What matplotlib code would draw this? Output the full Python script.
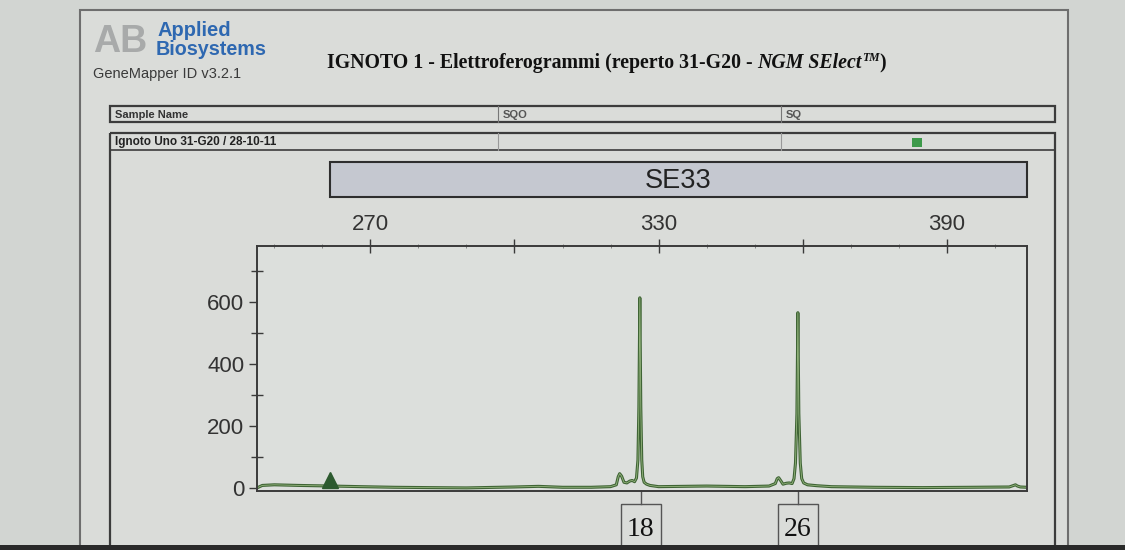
import matplotlib
matplotlib.use("Agg")
import matplotlib.pyplot as plt
from matplotlib.patches import Rectangle
from matplotlib.transforms import blended_transform_factory
from matplotlib.ticker import MultipleLocator

# electropherogram trace (size in bp, height in RFU)
size_bp = [246.4, 247.5, 250, 255, 262, 268, 275, 282, 290, 300, 305, 310, 316,
           320, 321.2, 321.6, 321.9, 322.3, 322.8, 323.4, 324.0, 324.5, 325.0,
           325.4, 325.7, 325.9, 326.1, 326.3, 326.5, 326.7, 327.0, 327.5, 328.2,
           330, 340, 348, 353, 354.3, 354.7, 355.0, 355.4, 355.9, 356.6, 357.2,
           357.8, 358.2, 358.5, 358.8, 359.0, 359.2, 359.5, 359.8, 360.2, 361.0,
           363, 366, 375, 385, 395, 403, 404.3, 404.7, 405.3, 406.7]
rfu = [0, 8, 10, 8, 6, 4, 2, 1, 0, 3, 5, 2, 2,
       4, 10, 36, 46, 38, 18, 16, 22, 24, 20,
       32, 90, 260, 613, 260, 90, 36, 18, 12, 8,
       4, 6, 4, 6, 14, 30, 33, 24, 12, 15, 16,
       14, 30, 80, 240, 565, 240, 80, 30, 16, 10,
       7, 4, 2, 1, 2, 3, 10, 6, 3, 2]

marker_name = "SE33"
marker_range = (261.5, 406.7)
allele_pos = [326.3, 359.0]
allele_lab = ["18", "26"]
ref_peak = (261.7, 24)

x_ticks = [270, 300, 330, 360, 390]
x_ticklabels = ["270", "", "330", "", "390"]
y_ticks = [0, 200, 400, 600]

sans = "Liberation Sans"
serif = "Liberation Serif"
ink = "#333333"

fig = plt.figure(figsize=(11.25, 5.5), dpi=100)
fig.patch.set_facecolor("#d2d5d2")

# background layer in pixel units
bg = fig.add_axes([0, 0, 1, 1])
bg.set_xlim(0, 1125)
bg.set_ylim(550, 0)
bg.axis("off")

# page
bg.add_patch(Rectangle((80, 10), 988, 560, facecolor="#dadcd9", edgecolor="#6e6e6e", lw=1.5))

# logo + header
bg.text(93, 42, "AB", fontfamily=sans, fontweight="bold", fontsize=27, color="#a8aaaa", va="center")
bg.text(157, 36, "Applied", fontfamily=sans, fontweight="bold", fontsize=14.5, color="#2e68b1", va="baseline")
bg.text(156, 55, "Biosystems", fontfamily=sans, fontweight="bold", fontsize=14.2, color="#2e68b1", va="baseline")
bg.text(93, 78, "GeneMapper ID v3.2.1", fontfamily=sans, fontsize=10.5, color="#3a3a3a", va="baseline")

# title in pieces (bold roman, bold italic, superscript)
fig.canvas.draw()
rend = fig.canvas.get_renderer()
x0, base = 327, 68
pieces = [("IGNOTO 1 - Elettroferogrammi (reperto 31-G20 - ", "normal", 14.3, 0),
          ("NGM SElect", "italic", 14.3, 0),
          ("TM", "italic", 8.5, -7),
          (")", "normal", 14.3, 0)]
for txt, style, fs, dy in pieces:
    t = bg.text(x0, base + dy, txt, fontfamily=serif, fontweight="bold", fontstyle=style,
                fontsize=fs, color="#111111", va="baseline")
    x0 += t.get_window_extent(rend).width

# sample table
bg.add_patch(Rectangle((110, 106), 945, 16, facecolor="none", edgecolor="#3c3c3c", lw=1.6))
bg.add_patch(Rectangle((110, 133), 945, 450, facecolor="none", edgecolor="#3c3c3c", lw=1.6))
bg.plot([110, 1055], [150, 150], color="#3c3c3c", lw=1.2)
for xd in [498, 781]:
    bg.plot([xd, xd], [106, 122], color="#777777", lw=0.8)
    bg.plot([xd, xd], [133, 150], color="#999999", lw=0.8)
bg.text(115, 114.5, "Sample Name", fontfamily=sans, fontweight="bold", fontsize=8, color=ink, va="center")
bg.text(503, 114.5, "SQO", fontfamily=sans, fontweight="bold", fontsize=8, color="#555555", va="center")
bg.text(786, 114.5, "SQ", fontfamily=sans, fontweight="bold", fontsize=8, color="#555555", va="center")
bg.text(115, 142, "Ignoto Uno 31-G20 / 28-10-11", fontfamily=sans, fontweight="bold", fontsize=8.5,
        color="#222222", va="center")
bg.add_patch(Rectangle((912, 138), 10, 9, facecolor="#3d9a4a", edgecolor="none"))

# electropherogram panel
ax = fig.add_axes([257 / 1125, 59 / 550, 770 / 1125, 245 / 550])
ax.set_facecolor("#dcdfdc")
ax.set_xlim(246.4, 406.7)
ax.set_ylim(-10, 780)
ax.plot(size_bp, rfu, color="#3f6435", lw=2.2, solid_joinstyle="round")
ax.plot(size_bp, rfu, color="#a9c98f", lw=0.6, alpha=0.8)
ax.plot(*ref_peak, marker="^", ms=12, color="#2c5a2f", mec="#2c5a2f", clip_on=False)

for sp in ax.spines.values():
    sp.set_color("#3a3a3a")
    sp.set_linewidth(1.4)

ax.xaxis.tick_top()
ax.set_xticks(x_ticks)
ax.set_xticklabels(x_ticklabels)
ax.xaxis.set_minor_locator(MultipleLocator(10))
ax.tick_params(axis="x", which="major", direction="inout", length=10, width=1.0, colors="#3a3a3a",
               labelsize=16, pad=3, labelcolor=ink)
ax.tick_params(axis="x", which="minor", direction="inout", length=3, width=0.6, colors="#777777")
ax.set_yticks(y_ticks)
ax.yaxis.set_minor_locator(MultipleLocator(100))
ax.tick_params(axis="y", which="major", direction="out", length=6, width=1.0, colors="#3a3a3a",
               labelsize=16, pad=3, labelcolor=ink)
ax.tick_params(axis="y", which="minor", direction="inout", length=8, width=1.0, colors="#3a3a3a")
for lab in ax.get_xticklabels() + ax.get_yticklabels():
    lab.set_fontfamily(sans)

# marker bin bar
mk = blended_transform_factory(ax.transData, bg.transData)
ax.add_patch(Rectangle((marker_range[0], 162), marker_range[1] - marker_range[0], 35,
                       transform=mk, facecolor="#c5c8d0", edgecolor="#2e2e2e", lw=1.5, clip_on=False))
ax.text(sum(marker_range) / 2, 181, marker_name, transform=mk, fontfamily=sans, fontsize=19.5,
        color="#222222", ha="center", va="center", clip_on=False)

# allele call boxes
for pos, lab in zip(allele_pos, allele_lab):
    ax.plot([pos, pos], [491, 504], transform=mk, color="#555555", lw=1.0, clip_on=False)
    ax.add_patch(Rectangle((pos - 4.2, 504), 8.4, 60, transform=mk, facecolor="none",
                           edgecolor="#555555", lw=1.0, clip_on=False))
    ax.text(pos, 529, lab, transform=mk, fontfamily=serif, fontsize=20, color="#111111",
            ha="center", va="center", clip_on=False)

# dark strip at the bottom of the screen
fig.patches.append(Rectangle((0, 0), 1, 5 / 550, transform=fig.transFigure,
                             facecolor="#2a2a2a", edgecolor="none", zorder=10))

fig.savefig("out.png", dpi=100, facecolor=fig.get_facecolor())
